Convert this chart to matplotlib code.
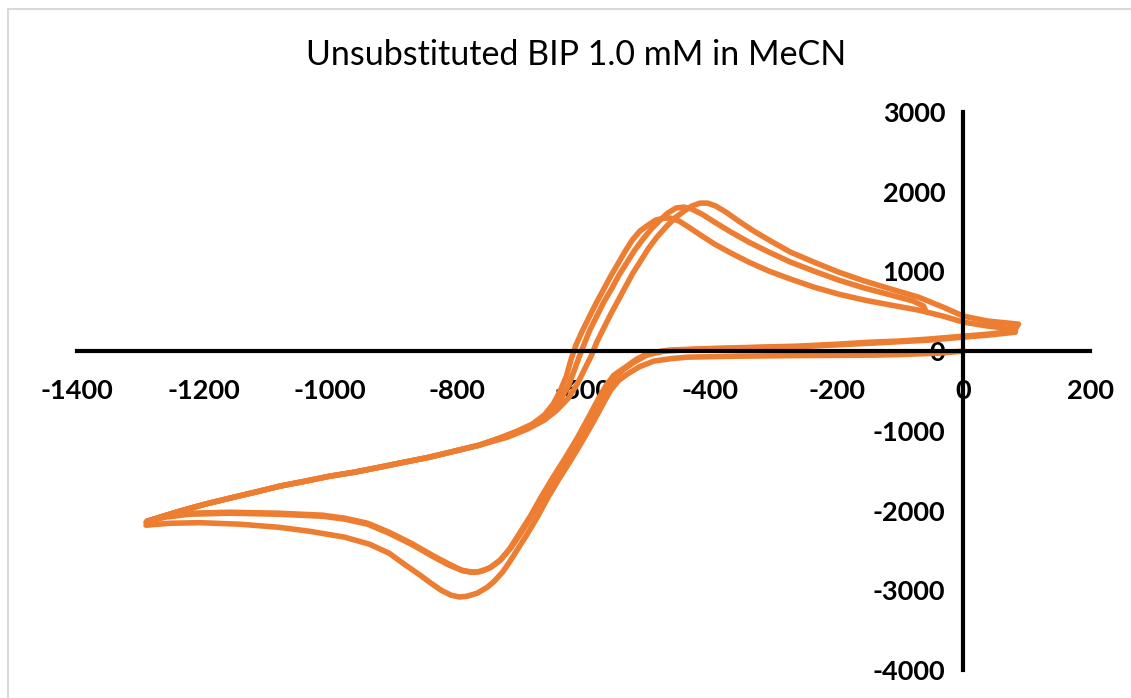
import matplotlib
matplotlib.use("Agg")
import matplotlib.pyplot as plt
from matplotlib.patches import Rectangle

# Cyclic voltammogram: potential (mV) and current for three consecutive cycles
cycle1_E = [0, -39, -102, -145, -260, -355, -434, -460, -489, -512, -531, -544, -557,
            -566, -583, -601, -620, -637, -656, -673, -690, -705, -717, -728, -741, -752,
            -768, -784, -796, -809, -825, -843, -858, -883, -907, -938, -977, -1033, -1082,
            -1143, -1206, -1253, -1291,
            -1269, -1238, -1198, -1159, -1119, -1080, -1040, -1001, -962, -922, -883, -843,
            -804, -765,
            -720, -689, -662, -642, -624, -610, -599, -588, -579, -568, -557, -545, -534,
            -522, -509, -497, -484, -470, -456, -441, -429, -416, -404, -391, -375, -355,
            -331, -304, -273, -236, -197, -156, -114, -71, -32, 0, 39, 87,
            80, 39, 0]
cycle1_I = [0, -25, -44, -50, -56, -63, -75, -92, -125, -197, -289, -364, -489,
            -615, -866, -1117, -1368, -1581, -1832, -2083, -2309, -2497, -2648, -2774, -2887, -2962,
            -3037, -3075, -3084, -3062, -2999, -2899, -2811, -2673, -2535, -2422, -2334, -2259, -2209,
            -2171, -2152, -2159, -2184,
            -2083, -2008, -1920, -1845, -1770, -1694, -1632, -1569, -1519, -1456, -1393, -1330,
            -1255, -1180,
            -1079, -979, -866, -740, -590, -414, -238, -63, 113, 289, 464, 640, 803,
            979, 1142, 1293, 1431, 1556, 1669, 1757, 1820, 1857, 1857, 1820, 1744, 1632,
            1506, 1380, 1242, 1117, 991, 879, 778, 678, 552, 439, 377, 339,
            251, 213, 188]

cycle2_E = [0, -55, -102, -145, -197, -260, -323, -408, -465, -497, -516, -533, -552, -564,
            -575, -591, -610, -629, -648, -667, -684, -702, -717, -733, -749, -765, -777,
            -793, -812, -836, -872, -907, -941, -977, -1012, -1082, -1159, -1222, -1261, -1290,
            -1269, -1238, -1198, -1159, -1119, -1080, -1040, -1001, -962, -922, -883, -843,
            -804, -765,
            -733, -705, -681, -662, -648, -637, -627, -620, -612, -602, -591, -580, -568,
            -557, -545, -534, -523, -511, -498, -486, -473, -462, -449, -434, -415, -393,
            -367, -339, -307, -273, -236, -197, -156, -114, -71, -32, 0, 39, 82,
            82, 39, 0]
cycle2_I = [188, 151, 126, 113, 88, 63, 50, 31, 13, -25, -100, -197, -301, -427,
            -577, -816, -1092, -1343, -1581, -1832, -2071, -2297, -2485, -2636, -2723, -2767, -2774,
            -2748, -2673, -2573, -2410, -2272, -2159, -2096, -2058, -2033, -2021, -2033, -2071, -2134,
            -2083, -2008, -1920, -1845, -1770, -1694, -1632, -1569, -1519, -1456, -1393, -1330,
            -1255, -1180,
            -1092, -1004, -916, -803, -665, -502, -314, -113, 75, 251, 427, 602, 778,
            941, 1104, 1255, 1393, 1506, 1581, 1644, 1669, 1669, 1632, 1556, 1456, 1343,
            1230, 1117, 1004, 904, 803, 715, 640, 577, 515, 439, 364, 314, 276,
            238, 201, 176]

cycle3_E = [0, -55, -145, -260, -355, -418, -473, -500, -520, -536, -552,
            -568, -585, -604, -624, -645, -664, -681, -698, -714, -730, -746, -761, -774,
            -790, -812, -836, -872, -907, -941, -977, -1012, -1082, -1159, -1222, -1261, -1291,
            -1269, -1238, -1198, -1159, -1119, -1080, -1040, -1001, -962, -922, -883, -843,
            -804, -765,
            -728, -698, -673, -653, -637, -624, -615, -607, -599, -590, -579, -568, -555,
            -544, -531, -519, -506, -493, -479, -467, -454, -441, -429, -413, -393, -367,
            -339, -307, -273, -236, -197, -156, -114, -79, -63, -60]
cycle3_I = [176, 138, 100, 56, 38, 25, 0, -50, -138, -226, -339,
            -515, -766, -1042, -1318, -1569, -1820, -2058, -2272, -2460, -2610, -2711, -2761, -2774,
            -2755, -2686, -2585, -2422, -2284, -2171, -2108, -2071, -2046, -2033, -2046, -2083, -2146,
            -2083, -2008, -1920, -1845, -1770, -1694, -1632, -1569, -1519, -1456, -1393, -1330,
            -1255, -1180,
            -1079, -991, -891, -766, -615, -439, -251, -75, 88, 264, 439, 615, 791,
            954, 1117, 1268, 1406, 1531, 1644, 1732, 1795, 1807, 1782, 1719, 1619, 1493,
            1368, 1242, 1117, 1004, 891, 791, 703, 628, 565, 515]

title = "Unsubstituted BIP 1.0 mM in MeCN"
x_ticks = list(range(-1400, 201, 200))
y_ticks = list(range(-4000, 3001, 1000))
line_color = "#ED7D31"

plt.rcParams["axes.unicode_minus"] = False

fig = plt.figure(figsize=(11.31, 6.98), dpi=100)
ax = fig.add_axes([77 / 1131, 28 / 698, (1090 - 77) / 1131, (670 - 112) / 698])

for E, I in [(cycle1_E, cycle1_I), (cycle2_E, cycle2_I), (cycle3_E, cycle3_I)]:
    ax.plot(E, I, color=line_color, lw=4.0, solid_joinstyle="round",
            solid_capstyle="round")

ax.set_xlim(-1400, 200)
ax.set_ylim(-4000, 3000)
ax.set_xticks(x_ticks)
ax.set_yticks(y_ticks)

for side in ("top", "right"):
    ax.spines[side].set_visible(False)
ax.spines["left"].set_position(("data", 0))
ax.spines["bottom"].set_position(("data", 0))
for side in ("left", "bottom"):
    ax.spines[side].set_linewidth(3.0)
    ax.spines[side].set_color("black")

ax.tick_params(axis="x", length=0, pad=20)
ax.tick_params(axis="y", length=0, pad=13)
for lab in ax.get_xticklabels() + ax.get_yticklabels():
    lab.set_fontfamily("Lato")
    lab.set_fontweight("bold")
    lab.set_fontsize(19.5)

fig.text(576 / 1131, 1 - 55 / 698, title, ha="center", va="center",
         fontsize=24.5, family="Lato")

# light chart-area border
fig.patches.append(Rectangle((7.5 / 1131, -0.1), (1140 - 7.5) / 1131, 1.1 - 9.5 / 698,
                             transform=fig.transFigure, fill=False,
                             edgecolor="#d9d9d9", lw=1.5))

fig.savefig("out.png", dpi=100)
